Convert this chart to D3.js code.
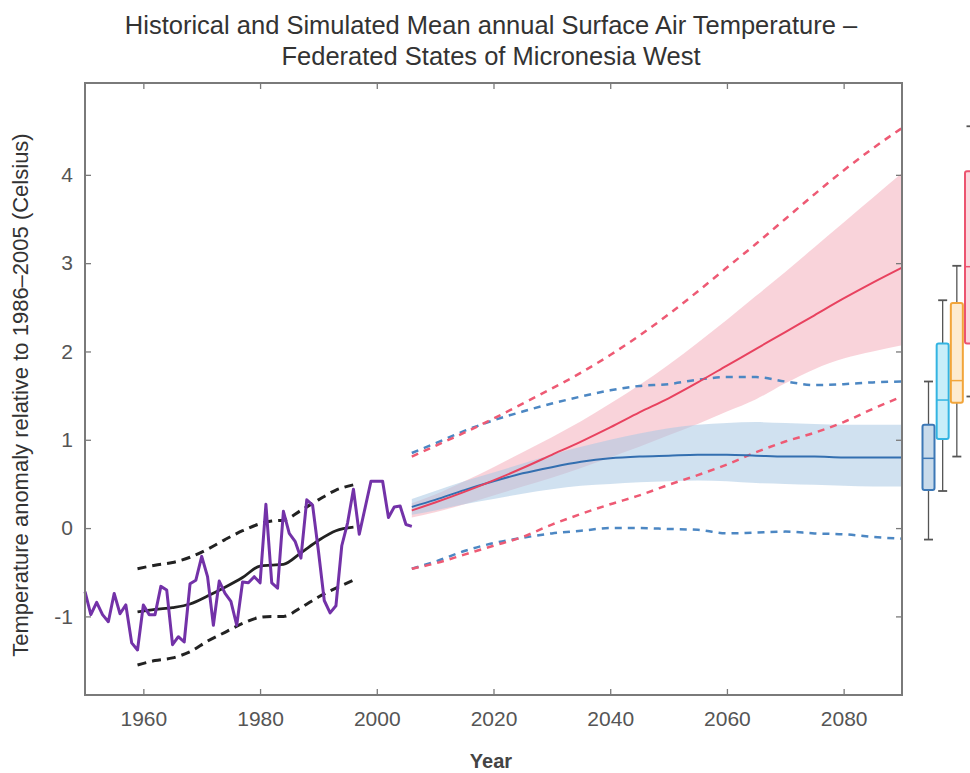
<!DOCTYPE html>
<html>
<head>
<meta charset="utf-8">
<script src="https://cdn.jsdelivr.net/npm/d3@7"></script>
<style>
  body { margin: 0; background: #fff; }
  text { font-family: "Liberation Sans", Arial, sans-serif; }
</style>
</head>
<body>
<div id="chart"></div>
<script>
var w = 970, h = 773;

var titleLines = ["Historical and Simulated Mean annual Surface Air Temperature \u2013",
                  "Federated States of Micronesia West"];
var yLabel = "Temperature anomaly relative to 1986\u20132005 (Celsius)";
var xLabel = "Year";

var xTicks = [1960, 1980, 2000, 2020, 2040, 2060, 2080];
var yTicks = [-1, 0, 1, 2, 3, 4];

// observed, one value per year from 1950
var obsStart = 1950;
var obsTemp = [-0.72, -0.98, -0.84, -0.98, -1.06, -0.74, -0.97, -0.87, -1.30, -1.38,
               -0.87, -0.98, -0.98, -0.66, -0.70, -1.32, -1.23, -1.29, -0.63, -0.59,
               -0.32, -0.55, -1.10, -0.60, -0.74, -0.83, -1.10, -0.61, -0.62, -0.55,
               -0.62, 0.27, -0.62, -0.68, 0.19, -0.06, -0.15, -0.34, 0.32, 0.26,
               -0.26, -0.82, -0.96, -0.88, -0.20, 0.06, 0.44, -0.07, 0.23, 0.53,
               0.53, 0.53, 0.12, 0.24, 0.25, 0.04, 0.02];

// simulated historical
var histYears = [1959, 1962, 1965, 1968, 1971, 1974, 1977, 1980, 1982, 1984, 1987, 1990, 1993, 1996];
var histMean  = [-0.95, -0.92, -0.90, -0.86, -0.77, -0.67, -0.56, -0.43, -0.42, -0.41, -0.28, -0.14, -0.03, 0.01];
var histMax   = [-0.46, -0.42, -0.39, -0.33, -0.24, -0.13, -0.03, 0.05, 0.08, 0.09, 0.20, 0.32, 0.43, 0.49];
var histMin   = [-1.55, -1.50, -1.47, -1.40, -1.28, -1.18, -1.08, -1.01, -1.00, -1.00, -0.90, -0.78, -0.68, -0.59];

// projections
var projYears = [2006, 2010, 2015, 2020, 2025, 2030, 2035, 2040, 2045, 2050, 2055, 2060, 2065, 2070, 2075, 2080, 2085, 2090];
var rcp85Mean = [0.20, 0.29, 0.41, 0.54, 0.68, 0.83, 0.98, 1.14, 1.31, 1.47, 1.65, 1.84, 2.03, 2.22, 2.41, 2.60, 2.78, 2.95];
var rcp85Hi   = [0.28, 0.38, 0.53, 0.69, 0.86, 1.03, 1.21, 1.41, 1.62, 1.85, 2.10, 2.36, 2.63, 2.90, 3.18, 3.46, 3.74, 4.02];
var rcp85Lo   = [0.12, 0.18, 0.27, 0.37, 0.47, 0.57, 0.68, 0.80, 0.92, 1.05, 1.18, 1.32, 1.46, 1.64, 1.80, 1.92, 2.00, 2.07];
var rcp85Max  = [0.81, 0.93, 1.08, 1.24, 1.41, 1.58, 1.76, 1.96, 2.18, 2.42, 2.68, 2.95, 3.22, 3.50, 3.78, 4.05, 4.30, 4.53];
var rcp85Min  = [-0.46, -0.40, -0.30, -0.20, -0.10, 0.04, 0.16, 0.27, 0.37, 0.49, 0.60, 0.72, 0.86, 0.98, 1.08, 1.20, 1.35, 1.49];
var rcp26Mean = [0.24, 0.32, 0.43, 0.53, 0.62, 0.69, 0.75, 0.79, 0.81, 0.82, 0.83, 0.83, 0.82, 0.81, 0.81, 0.80, 0.80, 0.80];
var rcp26Hi   = [0.33, 0.42, 0.53, 0.63, 0.73, 0.83, 0.92, 1.00, 1.07, 1.13, 1.17, 1.19, 1.20, 1.19, 1.18, 1.17, 1.17, 1.17];
var rcp26Lo   = [0.15, 0.20, 0.27, 0.33, 0.39, 0.44, 0.48, 0.50, 0.52, 0.53, 0.54, 0.53, 0.51, 0.50, 0.49, 0.48, 0.47, 0.47];
var rcp26Max  = [0.85, 0.96, 1.10, 1.22, 1.32, 1.41, 1.49, 1.56, 1.61, 1.63, 1.68, 1.71, 1.71, 1.66, 1.62, 1.63, 1.65, 1.66];
var rcp26Min  = [-0.46, -0.38, -0.26, -0.17, -0.11, -0.06, -0.03, 0.00, 0.00, -0.01, -0.02, -0.06, -0.05, -0.04, -0.06, -0.07, -0.10, -0.12];

// end of century box plots
var scenarios = ["RCP2.6", "RCP4.5", "RCP6.0", "RCP8.5"];
var boxLow  = [-0.13, 0.42, 0.81, 1.49];
var boxQ1   = [0.43, 1.01, 1.42, 2.09];
var boxMed  = [0.79, 1.45, 1.67, 2.96];
var boxQ3   = [1.17, 2.09, 2.55, 4.04];
var boxHigh = [1.66, 2.58, 2.97, 4.55];
var boxStroke = ["#3d78b6", "#33b4e2", "#f2a53a", "#ec5470"];
var boxFill   = ["#c9dbeb", "#c8eef9", "#fdebd0", "#fbd7de"];

var margin = {left: 85, right: 902, top: 83, bottom: 695};
var x, y, svg;

function series(years, vals) {
  return years.map(function(yr, i) { return {year: yr, v: vals[i]}; });
}

function band(years, lo, hi) {
  return years.map(function(yr, i) { return {year: yr, lo: lo[i], hi: hi[i]}; });
}

function main() {
  svg = d3.select("#chart").append("svg")
    .attr("width", w)
    .attr("height", h);

  svg.append("rect").attr("width", w).attr("height", h).attr("fill", "#fff");

  x = d3.scaleLinear().domain([1950, 2090]).range([margin.left, margin.right]);
  y = d3.scaleLinear().domain([-1.89, 5.04]).range([margin.bottom, margin.top]);

  var line = d3.line()
    .x(function(d) { return x(d.year); })
    .y(function(d) { return y(d.v); });
  var smooth = d3.line()
    .curve(d3.curveMonotoneX)
    .x(function(d) { return x(d.year); })
    .y(function(d) { return y(d.v); });
  var area = d3.area()
    .curve(d3.curveMonotoneX)
    .x(function(d) { return x(d.year); })
    .y0(function(d) { return y(d.lo); })
    .y1(function(d) { return y(d.hi); });

  // shaded ranges
  svg.append("path")
    .attr("d", area(band(projYears, rcp85Lo, rcp85Hi)))
    .attr("fill", "#f6b8c4")
    .attr("fill-opacity", 0.62);
  svg.append("path")
    .attr("d", area(band(projYears, rcp26Lo, rcp26Hi)))
    .attr("fill", "#a9c8e3")
    .attr("fill-opacity", 0.55);

  // dashed ranges
  var dashes = [
    {vals: rcp26Max, color: "#4c87c3"},
    {vals: rcp26Min, color: "#4c87c3"},
    {vals: rcp85Max, color: "#ee5a74"},
    {vals: rcp85Min, color: "#ee5a74"}
  ];
  dashes.forEach(function(s) {
    svg.append("path")
      .attr("d", smooth(series(projYears, s.vals)))
      .attr("fill", "none")
      .attr("stroke", s.color)
      .attr("stroke-width", 2.5)
      .attr("stroke-dasharray", "7,6");
  });

  // projection means
  svg.append("path")
    .attr("d", smooth(series(projYears, rcp26Mean)))
    .attr("fill", "none")
    .attr("stroke", "#336fb0")
    .attr("stroke-width", 2);
  svg.append("path")
    .attr("d", smooth(series(projYears, rcp85Mean)))
    .attr("fill", "none")
    .attr("stroke", "#e8425f")
    .attr("stroke-width", 2);

  // historical model
  [histMax, histMin].forEach(function(vals) {
    svg.append("path")
      .attr("d", smooth(series(histYears, vals)))
      .attr("fill", "none")
      .attr("stroke", "#222")
      .attr("stroke-width", 3)
      .attr("stroke-dasharray", "9,6");
  });
  svg.append("path")
    .attr("d", smooth(series(histYears, histMean)))
    .attr("fill", "none")
    .attr("stroke", "#222")
    .attr("stroke-width", 2.8);

  // observed
  var obs = obsTemp.map(function(v, i) { return {year: obsStart + i, v: v}; });
  svg.append("path")
    .attr("d", line(obs))
    .attr("fill", "none")
    .attr("stroke", "#7332a8")
    .attr("stroke-width", 3)
    .attr("stroke-linejoin", "round");

  // frame and axes
  var axisColor = "#7a7a7a";
  var gx = svg.append("g").attr("transform", "translate(0," + margin.bottom + ")")
    .call(d3.axisBottom(x).tickValues(xTicks).tickSizeInner(-6).tickSizeOuter(0).tickPadding(16)
      .tickFormat(function(d) { return String(d); }));
  var gy = svg.append("g").attr("transform", "translate(" + margin.left + ",0)")
    .call(d3.axisLeft(y).tickValues(yTicks).tickSizeInner(-6).tickSizeOuter(0).tickPadding(12)
      .tickFormat(function(d) { return String(d); }));
  var gr = svg.append("g").attr("transform", "translate(" + margin.right + ",0)")
    .call(d3.axisRight(y).tickValues(yTicks).tickSizeInner(-6).tickSizeOuter(0).tickFormat(""));
  var gt = svg.append("g").attr("transform", "translate(0," + margin.top + ")")
    .call(d3.axisTop(x).tickValues(xTicks).tickSizeInner(-6).tickSizeOuter(0).tickFormat(""));

  [gx, gy, gr, gt].forEach(function(g) {
    g.select(".domain").remove();
    g.selectAll(".tick line").attr("stroke", axisColor).attr("stroke-width", 1.3);
    g.selectAll(".tick text").attr("fill", "#555").style("font-size", "21px");
  });

  svg.append("rect")
    .attr("x", margin.left)
    .attr("y", margin.top)
    .attr("width", margin.right - margin.left)
    .attr("height", margin.bottom - margin.top)
    .attr("fill", "none")
    .attr("stroke", axisColor)
    .attr("stroke-width", 2);

  // box plots beyond the frame
  var bx = d3.scalePoint().domain(scenarios).range([928.5, 971]);
  var bw = 12, cap = 9;
  scenarios.forEach(function(s, i) {
    var cx = bx(s);
    var g = svg.append("g");
    g.append("line")
      .attr("x1", cx).attr("x2", cx)
      .attr("y1", y(boxLow[i])).attr("y2", y(boxHigh[i]))
      .attr("stroke", "#555").attr("stroke-width", 1.3);
    [boxLow[i], boxHigh[i]].forEach(function(v) {
      g.append("line")
        .attr("x1", cx - cap / 2).attr("x2", cx + cap / 2)
        .attr("y1", y(v)).attr("y2", y(v))
        .attr("stroke", "#555").attr("stroke-width", 1.8);
    });
    g.append("rect")
      .attr("x", cx - bw / 2)
      .attr("y", y(boxQ3[i]))
      .attr("width", bw)
      .attr("height", y(boxQ1[i]) - y(boxQ3[i]))
      .attr("rx", 2)
      .attr("fill", boxFill[i])
      .attr("stroke", boxStroke[i])
      .attr("stroke-width", 2);
    g.append("line")
      .attr("x1", cx - bw / 2).attr("x2", cx + bw / 2)
      .attr("y1", y(boxMed[i])).attr("y2", y(boxMed[i]))
      .attr("stroke", boxStroke[i]).attr("stroke-width", 1.5);
  });

  // labels
  svg.selectAll(".title")
    .data(titleLines)
    .enter().append("text")
    .attr("class", "title")
    .attr("x", 491)
    .attr("y", function(d, i) { return 34 + i * 31; })
    .attr("text-anchor", "middle")
    .attr("fill", "#333")
    .style("font-size", "25.5px")
    .text(function(d) { return d; });

  svg.append("text")
    .attr("transform", "translate(28,395) rotate(-90)")
    .attr("text-anchor", "middle")
    .attr("fill", "#333")
    .style("font-size", "22px")
    .text(yLabel);

  svg.append("text")
    .attr("x", 491)
    .attr("y", 768)
    .attr("text-anchor", "middle")
    .attr("fill", "#444")
    .style("font-size", "20px")
    .style("font-weight", "bold")
    .text(xLabel);
}

main();
</script>
</body>
</html>
